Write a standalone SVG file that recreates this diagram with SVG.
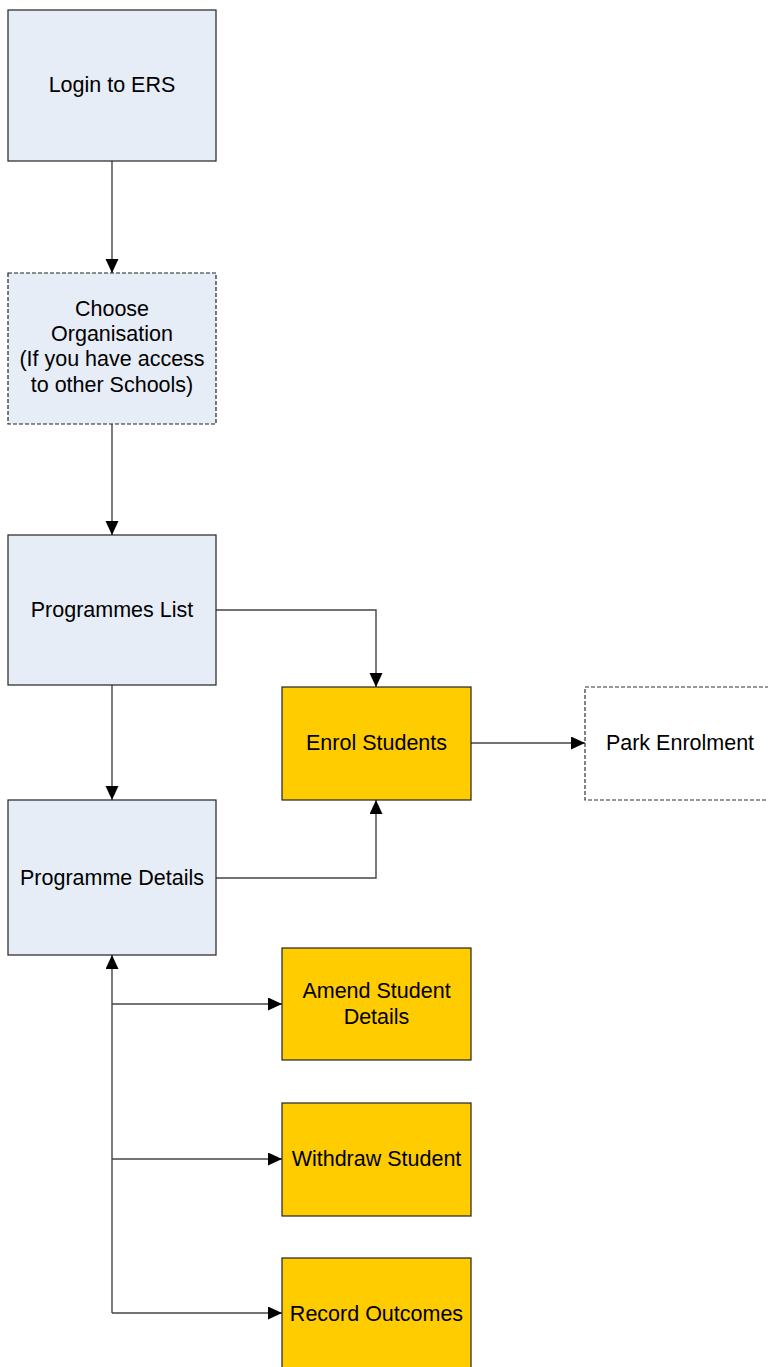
<svg xmlns="http://www.w3.org/2000/svg" width="768" height="1367" viewBox="0 0 768 1367">
<style>
.blue{fill:#E6EDF7;stroke:#222;stroke-width:1.2}
.yel{fill:#FFCC00;stroke:#222;stroke-width:1.2}
.dash{stroke-dasharray:4 2}
.wht{fill:#FFFFFF;stroke:#333;stroke-width:1.2}
text{font-family:"Liberation Sans",Arial,sans-serif;font-size:21.5px;fill:#000;text-anchor:middle}
.c{fill:none;stroke:#444;stroke-width:1.4}
</style>
<defs>
<marker id="ah" markerWidth="14" markerHeight="14" refX="14" refY="6.5" orient="auto" markerUnits="userSpaceOnUse">
<path d="M0,0 L14,6.5 L0,13 z" fill="#000"/>
</marker>
</defs>
<rect width="768" height="1367" fill="#fff"/>
<g id="connectors">
<path class="c" d="M112,161 V273" marker-end="url(#ah)"/>
<path class="c" d="M112,424 V535" marker-end="url(#ah)"/>
<path class="c" d="M216,610 H376 V687" marker-end="url(#ah)"/>
<path class="c" d="M112,685 V800" marker-end="url(#ah)"/>
<path class="c" d="M216,878 H376 V800" marker-end="url(#ah)"/>
<path class="c" d="M471,743 H585" marker-end="url(#ah)"/>
<path class="c" d="M112,1313 V955" marker-end="url(#ah)"/>
<path class="c" d="M112,1004 H282" marker-end="url(#ah)"/>
<path class="c" d="M112,1159 H282" marker-end="url(#ah)"/>
<path class="c" d="M112,1313 H282" marker-end="url(#ah)"/>
</g>
<g id="login">
<rect class="blue" x="8" y="10" width="208" height="151"/>
<text x="112" y="92">Login to ERS</text>
</g>
<g id="choose">
<rect class="blue dash" x="8" y="273" width="208" height="151"/>
<text x="112" y="316">Choose</text>
<text x="112" y="341">Organisation</text>
<text x="112" y="366">(If you have access</text>
<text x="112" y="392">to other Schools)</text>
</g>
<g id="proglist">
<rect class="blue" x="8" y="535" width="208" height="150"/>
<text x="112" y="617">Programmes List</text>
</g>
<g id="enrol">
<rect class="yel" x="282" y="687" width="189" height="113"/>
<text x="376.5" y="750">Enrol Students</text>
</g>
<g id="park">
<rect class="wht dash" x="585" y="687" width="190" height="113"/>
<text x="680" y="750">Park Enrolment</text>
</g>
<g id="progdetails">
<rect class="blue" x="8" y="800" width="208" height="155"/>
<text x="112" y="885">Programme Details</text>
</g>
<g id="amend">
<rect class="yel" x="282" y="948" width="189" height="112"/>
<text x="376.5" y="998">Amend Student</text>
<text x="376.5" y="1024">Details</text>
</g>
<g id="withdraw">
<rect class="yel" x="282" y="1103" width="189" height="113"/>
<text x="376.5" y="1166">Withdraw Student</text>
</g>
<g id="record">
<rect class="yel" x="282" y="1258" width="189" height="120"/>
<text x="376.5" y="1321">Record Outcomes</text>
</g>
</svg>
